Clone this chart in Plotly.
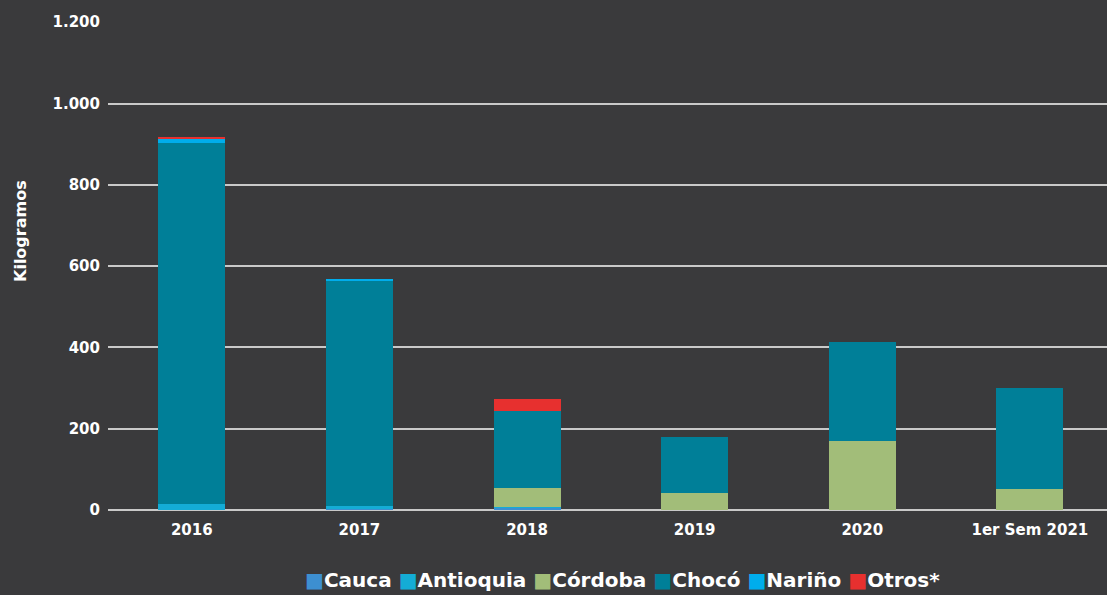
import plotly.graph_objects as go

categories = ["2016", "2017", "2018", "2019", "2020", "1er Sem 2021"]
cauca = [0, 3, 6, 0, 0, 0]
antioquia = [15, 8, 2, 0, 0, 0]
cordoba = [0, 0, 45, 43, 170, 52]
choco = [887, 552, 190, 136, 244, 248]
narino = [10, 5, 0, 0, 0, 0]
otros = [5, 0, 30, 0, 0, 0]

series = [
    ("Cauca", cauca, "#3d8fd1"),
    ("Antioquia", antioquia, "#14acd6"),
    ("Córdoba", cordoba, "#a2bd79"),
    ("Chocó", choco, "#007f98"),
    ("Nariño", narino, "#00adec"),
    ("Otros*", otros, "#e7302f"),
]

bg = "#3a3a3c"
font = "DejaVu Sans"

fig = go.Figure()
for name, vals, col in series:
    fig.add_trace(go.Bar(x=categories, y=vals, name=name, marker_color=col,
                         marker_line_width=0, showlegend=False))

legend_text = " ".join(
    f"<span style='color:{col}'>■</span>{name}" for name, _, col in series
)

fig.update_layout(
    barmode="stack",
    bargap=0.6,
    width=1107, height=595,
    paper_bgcolor=bg, plot_bgcolor=bg,
    separators=",.",
    margin=dict(l=108, r=0, t=22, b=85),
    font=dict(family=font, color="white", size=14),
    showlegend=False,
    xaxis=dict(showgrid=False, tickfont=dict(size=15, family=font, weight="bold"),
               range=[-0.5, 5.46],
               ticks="outside", ticklen=6, tickcolor=bg, showline=False),
    yaxis=dict(range=[0, 1200.5], tickvals=[0, 200, 400, 600, 800, 1000, 1200],
               tickformat=",d",
               showgrid=True, gridcolor="#c9c9c9", gridwidth=1.5,
               zeroline=True, zerolinecolor="#c9c9c9", zerolinewidth=2,
               tickfont=dict(size=15, family=font, weight="bold"),
               ticks="outside", ticklen=4, tickcolor=bg),
    annotations=[
        dict(text="Kilogramos", textangle=-90, xref="paper", yref="paper",
             x=(20 - 108) / 999, y=(510 - 231) / 488, xanchor="center",
             yanchor="middle", showarrow=False,
             font=dict(size=16, family=font, weight="bold", color="white")),
        dict(text=legend_text, xref="paper", yref="paper",
             x=(622 - 108) / 999, y=(510 - 580) / 488, xanchor="center",
             yanchor="middle", showarrow=False,
             font=dict(size=20, family=font, weight="bold", color="white")),
    ],
)

fig.write_html("out.html", config={"displayModeBar": False},
               post_script="document.body.style.margin='0';document.body.style.background='#3a3a3c';")
